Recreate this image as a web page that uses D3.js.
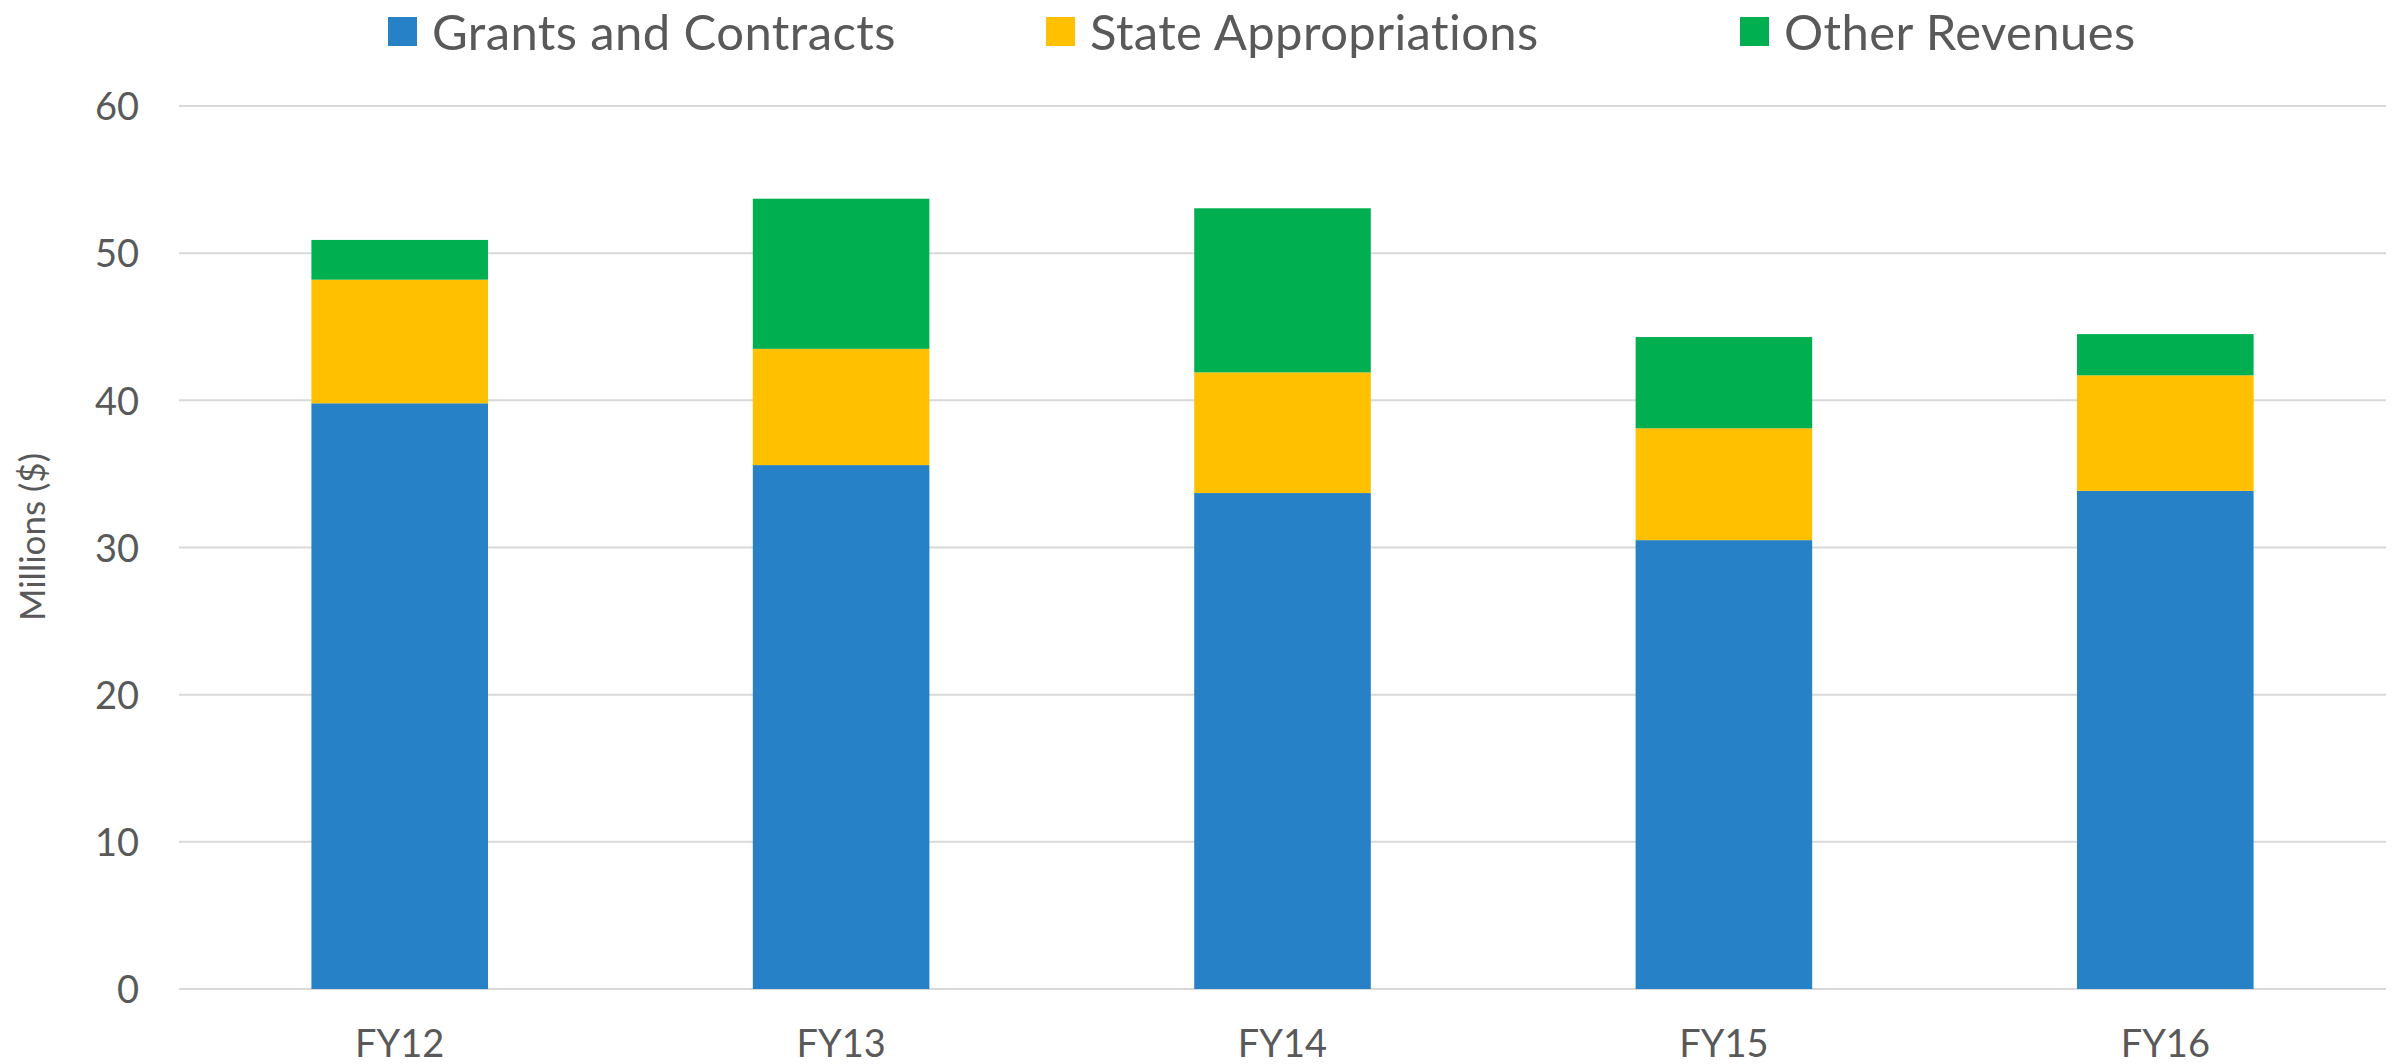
<!DOCTYPE html>
<html>
<head>
<meta charset="utf-8">
<script src="https://cdn.jsdelivr.net/npm/d3@7"></script>
<style>
  body { margin: 0; background: #fff; }
  text { font-family: Lato, "Open Sans", sans-serif; fill: #595959; }
</style>
</head>
<body>
<div id="chart"></div>
<script>
// categories and series
let years = ["FY12", "FY13", "FY14", "FY15", "FY16"];
let seriesNames = ["Grants and Contracts", "State Appropriations", "Other Revenues"];
let grants = [39.8, 35.6, 33.7, 30.5, 33.85];
let stateApprop = [8.4, 7.9, 8.2, 7.6, 7.85];
let otherRev = [2.7, 10.2, 11.15, 6.2, 2.8];
let yTicks = [0, 10, 20, 30, 40, 50, 60];
let colors = ["#2781C6", "#FFC000", "#00B050"];

// set the dimensions of the graph
let width = 2402, height = 1064;
let plot = {left: 179, right: 2386, top: 106, bottom: 989};

let svg = d3.select("#chart")
    .append("svg")
    .attr("width", width)
    .attr("height", height);

// build rows for the stack
let rows = years.map(function(y, i) {
    return {year: y, "Grants and Contracts": grants[i], "State Appropriations": stateApprop[i], "Other Revenues": otherRev[i]};
});
let stacked = d3.stack().keys(seriesNames)(rows);

// X scale
let x = d3.scaleBand()
    .domain(years)
    .range([plot.left, plot.right])
    .paddingInner(0.6)
    .paddingOuter(0.3);

// Y scale
let y = d3.scaleLinear()
    .domain([0, 60])
    .range([plot.bottom, plot.top]);

// gridlines
svg.append("g")
    .selectAll("line")
    .data(yTicks)
    .enter()
    .append("line")
    .attr("x1", plot.left)
    .attr("x2", plot.right)
    .attr("y1", function(d) { return y(d); })
    .attr("y2", function(d) { return y(d); })
    .attr("stroke", "#d9d9d9")
    .attr("stroke-width", 2);

// Y axis labels
let yAxis = svg.append("g")
    .attr("transform", "translate(" + (plot.left - 40) + ",0)")
    .call(d3.axisLeft(y).tickValues(yTicks).tickSize(0).tickPadding(0));
yAxis.select(".domain").remove();
yAxis.attr("font-family", null);
yAxis.selectAll("text")
    .attr("font-size", 38)
    .attr("dy", "0.36em");

// X axis labels
let xAxis = svg.append("g")
    .attr("transform", "translate(0," + plot.bottom + ")")
    .call(d3.axisBottom(x).tickSize(0).tickPadding(0));
xAxis.select(".domain").remove();
xAxis.attr("font-family", null);
xAxis.selectAll("text")
    .attr("font-size", 38)
    .attr("dy", null)
    .attr("y", 68);

// Stacked bars
svg.append("g")
    .selectAll("g")
    .data(stacked)
    .enter()
    .append("g")
    .attr("fill", function(d, i) { return colors[i]; })
    .selectAll("rect")
    .data(function(d) { return d; })
    .enter()
    .append("rect")
    .attr("x", function(d) { return x(d.data.year); })
    .attr("y", function(d) { return y(d[1]); })
    .attr("height", function(d) { return y(d[0]) - y(d[1]); })
    .attr("width", x.bandwidth());

// Y axis title
svg.append("text")
    .attr("transform", "translate(45,537) rotate(-90)")
    .attr("text-anchor", "middle")
    .attr("font-size", 35)
    .text("Millions ($)");

// Legend
let legendX = [388, 1046, 1740];
let legend = svg.append("g")
    .selectAll("g")
    .data(seriesNames)
    .enter()
    .append("g")
    .attr("transform", function(d, i) { return "translate(" + legendX[i] + ",0)"; });
legend.append("rect")
    .attr("x", 0)
    .attr("y", 17)
    .attr("width", 29)
    .attr("height", 29)
    .attr("fill", function(d, i) { return colors[i]; });
legend.append("text")
    .attr("x", 44)
    .attr("y", 50)
    .attr("font-size", 49)
    .attr("letter-spacing", 0.4)
    .text(function(d) { return d; });
</script>
</body>
</html>
